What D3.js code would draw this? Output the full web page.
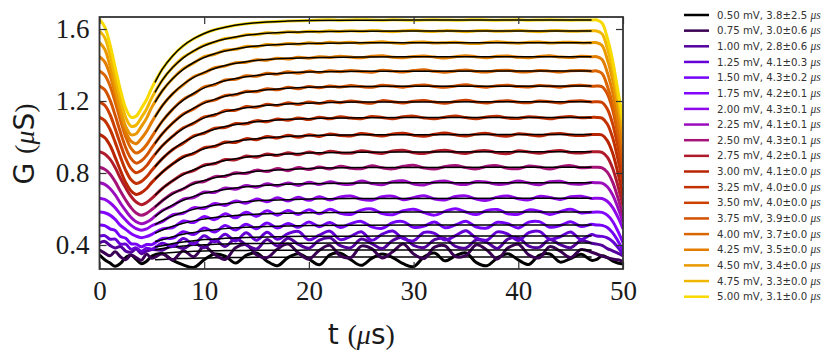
<!DOCTYPE html>
<html>
<head>
<meta charset="utf-8">
<script src="https://cdn.jsdelivr.net/npm/d3@7"></script>
<style>
    body { margin: 0; background: #fff; }
</style>
</head>
<body>
<svg id="chart" width="831" height="355"></svg>
<script>
// time grid (us) shared by all measured traces
const tGrid = [0,0.5,1,1.5,2,2.5,3,3.5,4,4.5,5,6,7,8,9,10,11,12,13,14,15,16,17,18,19,20,21,22,23,24,25,26,27,28,29,30,31,32,33,34,35,36,37,38,39,40,41,42,43,44,45,46,47,47.5,48,48.5,49,49.5,50];
// time points of the exponential fits
const tFit = [5.3,6,7,8,9,10,11,12,14,16,18,20,25,30,47];

const biasLabels = ["0.50","0.75","1.00","1.25","1.50","1.75","2.00","2.25","2.50","2.75","3.00","3.25","3.50","3.75","4.00","4.25","4.50","4.75","5.00"];
const tauMean = [3.8,3.0,2.8,4.1,4.3,4.2,4.3,4.1,4.3,4.2,4.1,4.0,4.0,3.9,3.7,3.5,3.4,3.3,3.1];
const tauErr  = [2.5,0.6,0.6,0.3,0.2,0.1,0.1,0.1,0.1,0.1,0.0,0.0,0.0,0.0,0.0,0.0,0.0,0.0,0.0];
const traceColors = ["#000000","#3a0053","#53009d","#6501d5","#7502f7","#8305fe","#8f08ea","#9b0dbc","#a51379","#af1b2a","#b92500","#c23100","#cb4000","#d35200","#db6600","#e37d00","#ea9800","#f1b700","#f8d900"];

// G (uS) traces
const g050 = [0.345,0.318,0.300,0.282,0.298,0.330,0.345,0.320,0.296,0.310,0.338,
    0.352,0.315,0.290,0.275,0.318,0.350,0.338,0.300,0.342,0.356,0.310,0.285,0.330,0.352,0.322,0.290,0.345,0.355,0.318,0.287,0.326,0.350,0.330,0.296,0.280,0.334,0.355,0.312,0.340,0.356,0.302,0.285,0.328,0.352,0.317,0.292,0.343,0.350,0.305,0.325,0.348,0.315,
    0.320,0.340,0.330,0.312,0.300,0.295];
const g075 = [0.372,0.355,0.340,0.362,0.335,0.318,0.345,0.330,0.315,0.348,0.326,
    0.352,0.318,0.368,0.335,0.392,0.348,0.320,0.385,0.402,0.345,0.330,0.378,0.405,0.356,0.322,0.371,0.398,0.340,0.330,0.394,0.380,0.328,0.362,0.405,0.350,0.325,0.388,0.396,0.336,0.342,0.401,0.372,0.322,0.383,0.404,0.345,0.329,0.391,0.366,0.330,0.375,0.360,
    0.350,0.338,0.330,0.322,0.318,0.310];
const g100 = [0.411,0.420,0.398,0.384,0.392,0.366,0.360,0.378,0.352,0.366,0.375,
    0.371,0.398,0.380,0.412,0.385,0.428,0.392,0.435,0.401,0.378,0.430,0.395,0.438,0.404,0.382,0.427,0.440,0.396,0.385,0.433,0.408,0.380,0.425,0.442,0.398,0.386,0.430,0.437,0.392,0.384,0.428,0.415,0.381,0.433,0.440,0.394,0.387,0.431,0.402,0.385,0.425,0.410,
    0.405,0.398,0.380,0.368,0.355,0.340];
const g125 = [0.450,0.452,0.432,0.433,0.405,0.405,0.377,0.384,0.365,0.382,0.376,
    0.410,0.392,0.436,0.405,0.452,0.418,0.460,0.422,0.468,0.427,0.471,0.432,0.463,0.475,0.429,0.455,
    0.477,0.430,0.448,0.474,0.426,0.460,0.478,0.435,0.424,0.470,0.465,0.428,0.452,0.479,0.438,0.427,0.473,0.461,0.425,0.469,0.476,0.433,0.446,0.472,0.431,0.458,
    0.450,0.448,0.440,0.420,0.388,0.350];
const g150 = [0.511,0.508,0.490,0.481,0.447,0.438,0.408,0.405,0.390,0.403,0.402,
    0.436,0.438,0.474,0.458,0.494,0.472,0.508,0.483,0.515,0.490,0.522,0.494,0.520,0.498,0.528,0.502,
    0.525,0.497,0.519,0.531,0.501,0.493,0.524,0.530,0.498,0.505,0.528,0.496,0.512,0.532,0.500,0.494,0.526,0.518,0.495,0.527,0.530,0.499,0.508,0.529,0.503,0.515,
    0.511,0.509,0.497,0.469,0.424,0.371];
const g175 = [0.583,0.579,0.566,0.542,0.509,0.487,0.464,0.449,0.441,0.447,0.459,
    0.490,0.497,0.533,0.525,0.558,0.541,0.573,0.551,0.582,0.560,0.590,0.566,0.592,0.570,0.596,0.573,
    0.598,0.576,0.570,0.594,0.600,0.575,0.568,0.590,0.599,0.580,0.566,0.587,0.601,0.583,0.569,0.592,0.597,0.574,0.571,0.595,0.588,0.570,0.585,0.598,0.578,0.582,
    0.583,0.581,0.566,0.532,0.478,0.412];
const g200 = [0.660,0.653,0.635,0.607,0.571,0.539,0.510,0.491,0.482,0.489,0.507,
    0.530,0.568,0.576,0.607,0.603,0.631,0.620,0.645,0.632,0.655,0.640,0.662,0.644,0.665,0.648,0.668,0.650,
    0.667,0.672,0.654,0.649,0.668,0.671,0.652,0.663,0.674,0.656,0.650,0.669,0.673,0.655,0.648,0.666,0.672,0.657,0.651,0.670,0.664,0.653,0.668,0.671,0.659,
    0.660,0.658,0.643,0.609,0.556,0.490];
const g225 = [0.746,0.737,0.714,0.678,0.632,0.591,0.554,0.529,0.518,0.527,0.545,
    0.592,0.618,0.655,0.664,0.694,0.692,0.717,0.710,0.731,0.721,0.740,0.728,0.745,0.731,0.749,0.736,0.751,
    0.740,0.737,0.755,0.742,0.735,0.752,0.757,0.739,0.734,0.750,0.756,0.741,0.736,0.753,0.749,0.737,0.742,0.756,0.744,0.735,0.751,0.754,0.740,0.738,0.747,
    0.746,0.744,0.724,0.680,0.610,0.526];
const g250 = [0.832,0.821,0.795,0.752,0.698,0.650,0.608,0.578,0.565,0.576,0.597,
    0.646,0.688,0.711,0.745,0.753,0.780,0.781,0.801,0.797,0.816,0.808,0.825,0.813,0.830,0.819,0.833,0.822,
    0.838,0.827,0.824,0.840,0.829,0.823,0.837,0.843,0.828,0.822,0.836,0.842,0.830,0.823,0.838,0.841,0.826,0.824,0.839,0.833,0.822,0.835,0.841,0.829,0.832,
    0.832,0.829,0.805,0.751,0.665,0.562];
const g275 = [0.918,0.906,0.877,0.830,0.771,0.718,0.671,0.639,0.624,0.636,0.659,
    0.714,0.757,0.795,0.813,0.845,0.851,0.875,0.873,0.894,0.888,0.906,0.897,0.912,0.902,0.917,0.906,0.921,
    0.912,0.910,0.924,0.915,0.909,0.922,0.926,0.913,0.908,0.920,0.927,0.915,0.909,0.921,0.924,0.912,0.908,0.923,0.917,0.910,0.920,0.925,0.914,0.911,0.918,
    0.918,0.915,0.888,0.828,0.732,0.618];
const g300 = [1.014,0.997,0.954,0.887,0.814,0.748,0.701,0.681,0.691,0.714,0.748,
    0.805,0.851,0.891,0.908,0.941,0.947,0.972,0.970,0.991,0.985,1.003,0.994,1.010,0.998,1.013,1.003,1.017,
    1.008,1.006,1.019,1.012,1.005,1.017,1.021,1.010,1.004,1.015,1.022,1.012,1.006,1.016,1.020,1.009,1.005,1.018,1.013,1.006,1.016,1.020,1.011,1.008,1.014,
    1.014,1.011,0.980,0.912,0.803,0.674];
const g325 = [1.109,1.091,1.043,0.970,0.889,0.815,0.764,0.742,0.753,0.779,0.815,
    0.880,0.931,0.966,1.006,1.021,1.049,1.053,1.075,1.073,1.091,1.085,1.100,1.093,1.106,1.097,1.110,1.101,
    1.113,1.105,1.102,1.114,1.108,1.101,1.112,1.116,1.106,1.101,1.110,1.117,1.108,1.102,1.111,1.115,1.105,1.103,1.113,1.109,1.101,1.110,1.114,1.107,1.109,
    1.109,1.105,1.072,0.998,0.880,0.739];
const g350 = [1.196,1.176,1.125,1.046,0.960,0.881,0.826,0.802,0.814,0.841,0.881,
    0.951,1.005,1.051,1.076,1.112,1.121,1.147,1.148,1.169,1.165,1.182,1.175,1.190,1.181,1.194,1.186,1.198,
    1.191,1.200,1.193,1.188,1.202,1.196,1.189,1.199,1.203,1.194,1.188,1.197,1.204,1.195,1.189,1.198,1.202,1.193,1.190,1.200,1.196,1.189,1.198,1.201,1.195,
    1.196,1.192,1.156,1.076,0.948,0.796];
const g375 = [1.283,1.262,1.206,1.120,1.026,0.941,0.881,0.855,0.868,0.898,0.941,
    1.018,1.078,1.128,1.156,1.193,1.205,1.231,1.234,1.254,1.252,1.268,1.262,1.276,1.268,1.281,1.273,1.284,
    1.278,1.286,1.280,1.276,1.288,1.283,1.277,1.285,1.289,1.281,1.276,1.284,1.290,1.282,1.277,1.285,1.288,1.280,1.278,1.286,1.283,1.277,1.285,1.287,1.282,
    1.283,1.279,1.240,1.154,1.016,0.853];
const g400 = [1.367,1.344,1.285,1.194,1.093,1.002,0.938,0.911,0.925,0.957,1.002,
    1.088,1.155,1.209,1.239,1.278,1.290,1.317,1.321,1.340,1.338,1.354,1.349,1.362,1.354,1.366,1.358,1.368,
    1.363,1.370,1.364,1.360,1.371,1.366,1.361,1.369,1.373,1.365,1.360,1.367,1.372,1.364,1.361,1.369,1.371,1.363,1.362,1.370,1.366,1.361,1.368,1.370,1.366,
    1.367,1.353,1.284,1.183,1.045,0.907];
const g425 = [1.446,1.417,1.345,1.238,1.127,1.031,0.977,0.963,0.992,1.031,1.084,
    1.174,1.241,1.290,1.335,1.356,1.385,1.394,1.413,1.415,1.429,1.427,1.438,1.433,1.443,1.438,1.446,
    1.442,1.449,1.444,1.440,1.448,1.451,1.443,1.441,1.447,1.450,1.444,1.439,1.446,1.452,1.445,1.441,1.448,1.450,1.443,1.440,1.447,1.451,1.444,1.442,1.448,1.446,
    1.446,1.431,1.358,1.250,1.103,0.956];
const g450 = [1.524,1.488,1.396,1.274,1.156,1.059,1.013,1.018,1.059,1.105,1.166,
    1.257,1.325,1.379,1.411,1.446,1.460,1.482,1.487,1.503,1.502,1.514,1.511,1.520,1.515,1.523,1.519,
    1.526,1.522,1.527,1.521,1.525,1.529,1.523,1.520,1.526,1.528,1.522,1.524,1.527,1.521,1.519,1.525,1.529,1.524,1.521,1.526,1.528,1.522,1.525,1.527,1.523,1.524,
    1.524,1.509,1.432,1.320,1.167,1.014];
const g475 = [1.589,1.552,1.457,1.330,1.209,1.109,1.061,1.066,1.109,1.156,1.219,
    1.316,1.387,1.443,1.477,1.510,1.527,1.547,1.553,1.568,1.569,1.579,1.576,1.585,1.581,1.588,1.584,1.590,
    1.586,1.591,1.587,1.592,1.588,1.585,1.590,1.593,1.588,1.586,1.591,1.589,1.585,1.590,1.592,1.587,1.589,1.593,1.588,1.585,1.590,1.591,1.587,1.589,1.590,
    1.589,1.573,1.494,1.377,1.218,1.059];
const g500 = [1.655,1.612,1.515,1.386,1.262,1.160,1.111,1.116,1.160,1.208,1.273,
    1.377,1.452,1.507,1.546,1.575,1.596,1.610,1.621,1.629,1.635,1.639,1.642,1.644,1.646,1.647,
    1.650,1.651,1.649,1.650,1.652,1.650,1.649,1.651,1.650,1.648,1.650,1.651,1.650,1.649,1.650,1.652,1.650,1.649,1.650,1.651,1.649,1.650,1.651,1.650,1.649,1.650,1.650,
    1.650,1.633,1.550,1.428,1.261,1.094];

// exponential fits (G in uS at tFit)
const f050 = [0.318,0.320,0.323,0.325,0.327,0.328,0.329,0.330,0.331,0.332,0.332,0.333,0.333,0.333,0.333];
const f075 = [0.350,0.354,0.359,0.362,0.365,0.367,0.368,0.369,0.370,0.371,0.371,0.372,0.372,0.372,0.372];
const f100 = [0.374,0.381,0.388,0.394,0.398,0.401,0.404,0.406,0.408,0.409,0.410,0.410,0.411,0.411,0.411];
const f125 = [0.389,0.396,0.408,0.417,0.424,0.430,0.434,0.437,0.442,0.445,0.447,0.448,0.449,0.450,0.450];
const f150 = [0.420,0.429,0.446,0.460,0.470,0.479,0.485,0.491,0.498,0.503,0.506,0.508,0.510,0.511,0.511];
const f175 = [0.466,0.483,0.504,0.521,0.534,0.544,0.553,0.559,0.568,0.574,0.577,0.579,0.582,0.583,0.583];
const f200 = [0.513,0.535,0.561,0.582,0.598,0.611,0.621,0.629,0.641,0.648,0.652,0.655,0.658,0.659,0.660];
const f225 = [0.558,0.588,0.623,0.649,0.670,0.687,0.699,0.709,0.723,0.732,0.738,0.741,0.745,0.746,0.746];
const f250 = [0.612,0.646,0.684,0.715,0.739,0.758,0.774,0.786,0.803,0.814,0.820,0.825,0.830,0.831,0.832];
const f275 = [0.676,0.714,0.757,0.791,0.818,0.839,0.856,0.869,0.888,0.899,0.906,0.911,0.916,0.917,0.918];
const f300 = [0.765,0.805,0.851,0.886,0.913,0.935,0.952,0.966,0.984,0.996,1.003,1.007,1.012,1.013,1.014];
const f325 = [0.835,0.880,0.931,0.970,1.001,1.025,1.043,1.058,1.078,1.090,1.098,1.102,1.107,1.108,1.109];
const f350 = [0.902,0.951,1.005,1.047,1.080,1.106,1.126,1.141,1.163,1.176,1.184,1.188,1.194,1.195,1.196];
const f375 = [0.964,1.018,1.078,1.124,1.160,1.188,1.209,1.226,1.249,1.262,1.271,1.276,1.281,1.282,1.283];
const f400 = [1.028,1.088,1.155,1.205,1.243,1.273,1.295,1.312,1.335,1.348,1.356,1.361,1.365,1.366,1.367];
const f425 = [1.111,1.174,1.241,1.293,1.331,1.359,1.381,1.397,1.418,1.430,1.437,1.441,1.445,1.446,1.446];
const f450 = [1.193,1.257,1.325,1.376,1.414,1.442,1.463,1.478,1.499,1.510,1.516,1.520,1.523,1.524,1.524];
const f475 = [1.248,1.316,1.387,1.440,1.479,1.507,1.529,1.544,1.565,1.576,1.582,1.585,1.588,1.589,1.589];
const f500 = [1.304,1.377,1.452,1.507,1.546,1.575,1.596,1.610,1.629,1.639,1.644,1.647,1.649,1.650,1.650];

const traces = [g050,g075,g100,g125,g150,g175,g200,g225,g250,g275,g300,g325,g350,g375,g400,g425,g450,g475,g500];
const fits = [f050,f075,f100,f125,f150,f175,f200,f225,f250,f275,f300,f325,f350,f375,f400,f425,f450,f475,f500];

const svg = d3.select("#chart");
const margin = {top: 17, right: 208, bottom: 86, left: 99.5};
const plotW = 831 - margin.left - margin.right,
    plotH = 355 - margin.top - margin.bottom;

const x = d3.scaleLinear().domain([0, 50]).range([margin.left, margin.left + plotW]);
const y = d3.scaleLinear().domain([0.2667, 1.6667]).range([margin.top + plotH, margin.top]);

svg.append("clipPath").attr("id", "plotClip")
    .append("rect")
    .attr("x", margin.left).attr("y", margin.top)
    .attr("width", plotW).attr("height", plotH);

const plot = svg.append("g").attr("clip-path", "url(#plotClip)");

const dataLine = d3.line()
    .x(d => x(d[0]))
    .y(d => y(d[1]))
    .curve(d3.curveCatmullRom.alpha(0.5));

const fitLine = d3.line()
    .x(d => x(d[0]))
    .y(d => y(d[1]))
    .curve(d3.curveMonotoneX);

for (let i = 0; i < traces.length; i++) {
    plot.append("path")
        .datum(tGrid.map((t, k) => [t, traces[i][k]]))
        .attr("fill", "none")
        .attr("stroke", traceColors[i])
        .attr("stroke-width", 3)
        .attr("stroke-linejoin", "round")
        .attr("d", dataLine);
    plot.append("path")
        .datum(tFit.map((t, k) => [t, fits[i][k]]))
        .attr("fill", "none")
        .attr("stroke", "#000")
        .attr("stroke-width", 1.5)
        .attr("d", fitLine);
}

// axes, ticks on all four sides pointing in
const xTicks = [0, 10, 20, 30, 40, 50];
const yTicks = [0.4, 0.8, 1.2, 1.6];
const tickFont = "'Liberation Serif', 'DejaVu Serif', serif";

const axBottom = svg.append("g")
    .attr("transform", "translate(0," + (margin.top + plotH) + ")")
    .call(d3.axisBottom(x).tickValues(xTicks).tickSize(-7).tickSizeOuter(0).tickPadding(12));
const axLeft = svg.append("g")
    .attr("transform", "translate(" + margin.left + ",0)")
    .call(d3.axisLeft(y).tickValues(yTicks).tickSize(-7).tickSizeOuter(0).tickPadding(10));
const axTop = svg.append("g")
    .attr("transform", "translate(0," + margin.top + ")")
    .call(d3.axisTop(x).tickValues(xTicks).tickSize(-7).tickSizeOuter(0).tickFormat(""));
const axRight = svg.append("g")
    .attr("transform", "translate(" + (margin.left + plotW) + ",0)")
    .call(d3.axisRight(y).tickValues(yTicks).tickSize(-7).tickSizeOuter(0).tickFormat(""));

[axBottom, axLeft, axTop, axRight].forEach(g => {
    g.select(".domain").remove();
    g.selectAll(".tick line").attr("stroke", "#333").attr("stroke-width", 1.2);
    g.selectAll("text")
        .attr("font-family", tickFont)
        .attr("font-size", 27)
        .attr("fill", "#1a1a1a");
});

svg.append("rect")
    .attr("x", margin.left).attr("y", margin.top)
    .attr("width", plotW).attr("height", plotH)
    .attr("fill", "none")
    .attr("stroke", "#333")
    .attr("stroke-width", 1.8);

// axis titles
const sansFont = "'DejaVu Sans', sans-serif";
const serifFont = "'Liberation Serif', 'DejaVu Serif', serif";

const yTitle = svg.append("text")
    .attr("transform", "translate(34," + (margin.top + plotH / 2 + 1) + ") rotate(-90)")
    .attr("text-anchor", "middle")
    .attr("font-size", 28)
    .attr("fill", "#1a1a1a");
yTitle.append("tspan").attr("font-family", sansFont).text("G ");
yTitle.append("tspan").attr("font-family", serifFont).text("(");
yTitle.append("tspan").attr("font-family", serifFont).attr("font-style", "italic").text("μ");
yTitle.append("tspan").attr("font-family", sansFont).text("S");
yTitle.append("tspan").attr("font-family", serifFont).text(")");

const xTitle = svg.append("text")
    .attr("x", margin.left + plotW / 2)
    .attr("y", 344)
    .attr("text-anchor", "middle")
    .attr("font-size", 28)
    .attr("fill", "#1a1a1a");
xTitle.append("tspan").attr("font-family", sansFont).text("t ");
xTitle.append("tspan").attr("font-family", serifFont).text("(");
xTitle.append("tspan").attr("font-family", serifFont).attr("font-style", "italic").text("μ");
xTitle.append("tspan").attr("font-family", sansFont).text("s");
xTitle.append("tspan").attr("font-family", serifFont).text(")");

// legend
const legend = svg.append("g").attr("transform", "translate(684,15)");
const rowH = 15.65;
biasLabels.forEach((b, i) => {
    const row = legend.append("g").attr("transform", "translate(0," + (i * rowH) + ")");
    row.append("line")
        .attr("x1", 0).attr("x2", 25)
        .attr("stroke", traceColors[i])
        .attr("stroke-width", 2.5);
    const txt = row.append("text")
        .attr("x", 33).attr("y", 3.6)
        .attr("font-family", sansFont)
        .attr("font-size", 10.2)
        .attr("fill", "#333");
    txt.append("tspan").text(b + " mV, " + tauMean[i].toFixed(1) + "±" + tauErr[i].toFixed(1) + " ");
    txt.append("tspan")
        .attr("font-family", serifFont)
        .attr("font-style", "italic")
        .attr("font-size", 11.5)
        .text("μs");
});
</script>
</body>
</html>
